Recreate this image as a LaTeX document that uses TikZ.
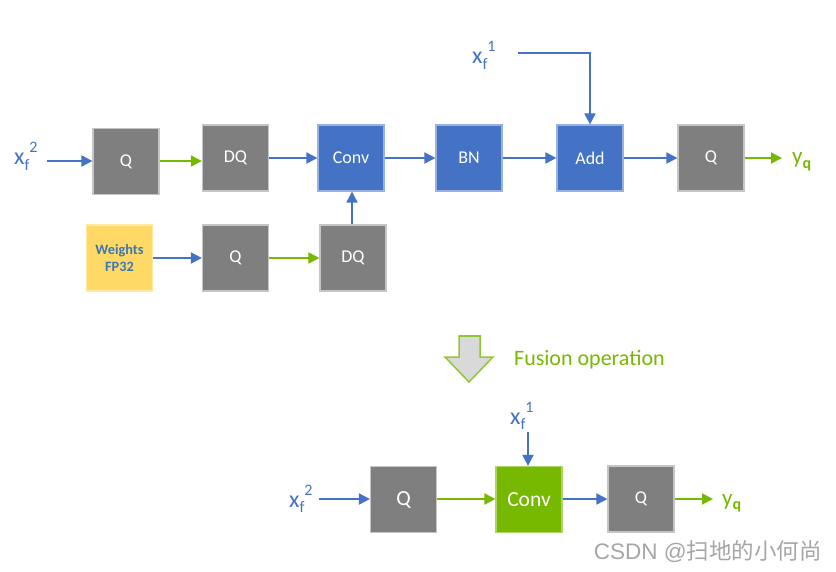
\documentclass[tikz,border=0pt]{standalone}
\usepackage{fontspec}
\setmainfont{Carlito}
\newfontfamily\cjkfont{Noto Sans CJK SC}
\newfontfamily\wmfont{Liberation Sans}
\usetikzlibrary{arrows.meta}
\definecolor{cblue}{HTML}{4472C4}
\definecolor{cgreen}{HTML}{76B900}
\definecolor{cgray}{HTML}{7F7F7F}
\definecolor{cyellow}{HTML}{FFD966}
\definecolor{wtext}{HTML}{3A78B5}
\definecolor{wmgray}{HTML}{A6A6A6}
\newcommand{\xflab}[1]{x\raisebox{-0.21em}{\fontsize{16}{16}\selectfont f}\raisebox{0.5em}{\fontsize{16}{16}\selectfont #1}}
\newcommand{\yqlab}{y\raisebox{-0.18em}{\fontsize{16}{16}\selectfont\bfseries q}}
\tikzset{
  boxbase/.style={minimum width=66pt, minimum height=66pt, inner sep=0pt, text=white, line width=1.2pt, font=\fontsize{18}{18}\selectfont},
  graybox/.style={boxbase, fill=cgray, draw=cgray!45!white},
  bluebox/.style={boxbase, fill=cblue, draw=cblue!55!white},
  greenbox/.style={boxbase, fill=cgreen, draw=cgreen!60!white},
  yellowbox/.style={boxbase, fill=cyellow, draw=cyellow!60!white, text=wtext, align=center, font=\fontsize{14.3}{17}\selectfont\bfseries},
  bigfont/.style={font=\fontsize{21.5}{21.5}\selectfont},
  bluearrow/.style={draw=cblue, line width=2pt, -{Triangle[length=11pt,width=11pt]}},
  greenarrow/.style={draw=cgreen, line width=2pt, -{Triangle[length=11pt,width=11pt]}},
  blueline/.style={draw=cblue, line width=2pt},
  inlabel/.style={text=cblue, inner sep=0pt, font=\fontsize{24}{24}\selectfont},
  outlabel/.style={text=cgreen, inner sep=0pt, font=\fontsize{23}{23}\selectfont},
}
\begin{document}
\begin{tikzpicture}[x=1pt,y=-1pt]
\useasboundingbox (0,0) rectangle (836,572);
% top row
\node[graybox] (q1) at (126,161.5) {Q};
\node[graybox] (dq1) at (235.5,158) {DQ};
\node[bluebox] (conv) at (351,158) {Conv};
\node[bluebox] (bn) at (469,158) {BN};
\node[bluebox] (add) at (590,158) {Add};
\node[graybox] (qtr) at (711,158) {Q};
\node[yellowbox] (w) at (119.5,258) {Weights\\FP32};
\node[graybox] (q2) at (235.5,258) {Q};
\node[graybox] (dq2) at (353,258) {DQ};
\node[inlabel, anchor=base west] (xf2a) at (14,165) {\xflab{2}};
\node[inlabel, anchor=base west] (xf1a) at (472,64) {\xflab{1}};
\node[outlabel, anchor=base west] (yqa) at (792,164) {\yqlab};
\coordinate (xf2as) at (47,161);
\coordinate (xf1as) at (518,53);
\coordinate (yqae) at (782,158);
\draw[bluearrow] (xf2as) -- (xf2as -| q1.west);
\draw[greenarrow] (q1.east |- 0,161) -- (dq1.west |- 0,161);
\draw[bluearrow] (dq1.east) -- (conv.west);
\draw[bluearrow] (conv.east) -- (bn.west);
\draw[bluearrow] (bn.east) -- (add.west);
\draw[bluearrow] (add.east) -- (qtr.west);
\draw[greenarrow] (qtr.east) -- (yqae);
\draw[bluearrow] (xf1as) -| (add.north);
\draw[bluearrow] (w.east) -- (q2.west);
\draw[greenarrow] (q2.east) -- (dq2.west);
\draw[bluearrow] (dq2.north -| 352,0) -- (conv.south -| 352,0);
% fusion arrow
\draw[draw=cgreen!80!white, fill=black!15, line width=1.5pt, line join=miter]
  (459,336) -- (480,336) -- (480,357) -- (493,357) -- (469,382) -- (445,357) -- (459,357) -- cycle;
\node[text=cgreen, anchor=west, inner sep=0pt, font=\fontsize{22}{22}\selectfont] (fus) at (514,360) {Fusion operation};
% bottom row
\node[graybox, bigfont] (qb1) at (403.5,499.5) {Q};
\node[greenbox, bigfont] (convb) at (529,499.5) {Conv};
\node[graybox] (qb2) at (641,499) {Q};
\node[inlabel, anchor=base west] (xf2b) at (289,507) {\xflab{2}};
\node[inlabel, anchor=base west] (xf1b) at (510,424) {\xflab{1}};
\node[outlabel, anchor=base west] (yqb) at (722,505) {\yqlab};
\coordinate (xf2bs) at (319,499);
\coordinate (xf1bs) at (528,432);
\coordinate (yqbe) at (713,499);
\draw[bluearrow] (xf2bs) -- (xf2bs -| qb1.west);
\draw[greenarrow] (qb1.east |- 0,499) -- (convb.west |- 0,499);
\draw[bluearrow] (convb.east |- 0,499) -- (qb2.west |- 0,499);
\draw[greenarrow] (qb2.east) -- (yqbe);
\draw[bluearrow] (xf1bs) -- (xf1bs |- convb.north);
% watermark
\node[text=wmgray, anchor=base east, inner sep=0pt, font=\wmfont\fontsize{22.5}{22.5}\selectfont] (wm) at (822,559) {CSDN @{\cjkfont 扫地的小何尚}};
\end{tikzpicture}
\end{document}
